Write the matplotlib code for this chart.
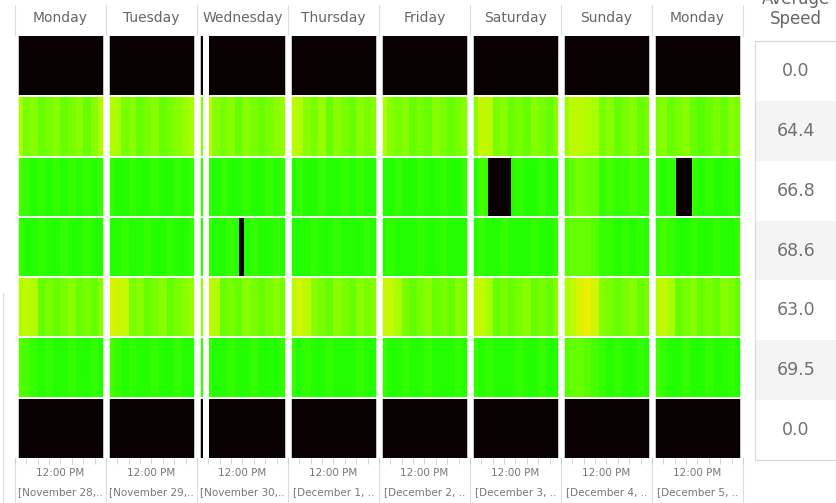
import numpy as np
import matplotlib.pyplot as plt
from matplotlib.colors import LinearSegmentedColormap, Normalize
from matplotlib.patches import Rectangle
from matplotlib.lines import Line2D

W, H = 837, 503

days = ["Monday", "Tuesday", "Wednesday", "Thursday", "Friday",
        "Saturday", "Sunday", "Monday"]
dates = ["[November 28,..", "[November 29,..", "[November 30,..",
         "[December 1, ..", "[December 2, ..", "[December 3, ..",
         "[December 4, ..", "[December 5, .."]
avg_speed = [0.0, 64.4, 66.8, 68.6, 63.0, 69.5, 0.0]

# speed (mph) in 2-hour bins, one list of 12 per day
row_closed = [[0] * 12 for _ in range(8)]
row1 = [
    [62, 65, 64, 66, 65, 64, 66, 65, 64, 66, 64, 61],
    [61, 62, 65, 64, 66, 65, 64, 66, 65, 64, 63, 62],
    [64, 60, 64, 65, 64, 66, 64, 65, 66, 65, 64, 63],
    [60, 61, 64, 65, 63, 66, 64, 65, 66, 64, 65, 64],
    [62, 64, 65, 64, 66, 65, 66, 64, 65, 66, 65, 64],
    [64, 59, 60, 65, 64, 66, 65, 66, 64, 65, 66, 64],
    [63, 60, 60, 61, 62, 65, 64, 66, 65, 64, 66, 65],
    [65, 64, 66, 65, 64, 66, 67, 66, 65, 66, 64, 65],
]
row2 = [
    [68, 69, 70, 69, 70, 69, 70, 69, 70, 69, 70, 69],
    [69, 70, 70, 69, 70, 70, 69, 70, 70, 69, 70, 69],
    [69, 69, 70, 69, 70, 70, 69, 70, 70, 69, 70, 69],
    [70, 69, 70, 70, 69, 70, 70, 69, 70, 69, 70, 70],
    [70, 70, 69, 70, 70, 69, 70, 70, 69, 70, 70, 69],
    [70, 68, 69, 69, 69, 70, 69, 70, 70, 69, 70, 70],
    [68, 66, 65, 66, 66, 69, 68, 69, 69, 68, 69, 69],
    [69, 70, 69, 69, 69, 69, 70, 69, 70, 70, 69, 70],
]
row3 = [
    [69, 70, 70, 69, 70, 70, 69, 70, 70, 69, 70, 70],
    [70, 70, 69, 70, 70, 69, 70, 70, 69, 70, 70, 69],
    [70, 69, 70, 70, 69, 70, 70, 69, 70, 70, 69, 70],
    [70, 70, 70, 69, 70, 70, 69, 70, 70, 70, 69, 70],
    [70, 69, 70, 70, 70, 69, 70, 70, 69, 70, 70, 70],
    [70, 69, 70, 70, 69, 70, 70, 70, 69, 70, 70, 69],
    [67, 66, 66, 66, 67, 69, 69, 70, 69, 70, 69, 70],
    [69, 68, 69, 70, 70, 69, 70, 70, 69, 70, 70, 69],
]
row4 = [
    [61, 60, 61, 66, 65, 66, 65, 64, 66, 65, 66, 64],
    [57, 58, 59, 65, 64, 66, 65, 64, 66, 65, 64, 63],
    [63, 60, 61, 66, 65, 66, 64, 65, 66, 65, 64, 65],
    [60, 58, 60, 64, 65, 66, 64, 65, 66, 64, 65, 64],
    [59, 59, 62, 65, 66, 65, 64, 66, 65, 66, 64, 65],
    [60, 59, 62, 66, 65, 66, 65, 64, 66, 65, 66, 64],
    [62, 60, 57, 55, 58, 64, 65, 66, 65, 64, 66, 65],
    [61, 59, 62, 66, 65, 64, 66, 65, 66, 64, 65, 66],
]
row5 = [
    [67, 68, 69, 70, 69, 70, 70, 69, 70, 70, 69, 70],
    [68, 69, 70, 69, 70, 70, 69, 70, 70, 69, 70, 70],
    [69, 69, 70, 70, 69, 70, 70, 69, 70, 70, 70, 69],
    [69, 70, 69, 70, 70, 69, 70, 70, 70, 69, 70, 70],
    [69, 70, 70, 69, 70, 70, 69, 70, 70, 70, 69, 70],
    [69, 70, 69, 70, 70, 70, 69, 70, 70, 69, 70, 70],
    [67, 66, 66, 67, 68, 69, 70, 69, 70, 70, 69, 70],
    [68, 69, 70, 70, 69, 70, 70, 69, 70, 70, 69, 70],
]
rows = [row_closed, row1, row2, row3, row4, row5, row_closed]

# (day, row, start hour, end hour) where speed dropped to 0
outages = [(2, 3, 11.1, 12.4), (5, 2, 4.7, 10.8), (7, 2, 6.3, 10.5)]
# (day, start hour, end hour) with no data at all
missing = [(2, 1.6, 3.2)]

grid = np.array([np.concatenate(r) for r in rows], dtype=float)
n_bins = grid.shape[1] // len(days)

cmap = LinearSegmentedColormap.from_list(
    "speed", [(0.0, "#ecf000"), (0.45, "#a6ff00"), (1.0, "#14ff00")])
cmap.set_under("#0a0202")
norm = Normalize(vmin=55, vmax=71)

fig = plt.figure(figsize=(W / 100, H / 100), dpi=100)
ax = fig.add_axes([15 / W, (H - 458) / H, 728 / W, 422 / H])

x_edges = np.arange(grid.shape[1] + 1) / n_bins
y_edges = np.arange(len(rows) + 1)
ax.pcolormesh(x_edges, y_edges, grid, cmap=cmap, norm=norm, zorder=1)

for d, r, h0, h1 in outages:
    ax.add_patch(Rectangle((d + h0 / 24, r), (h1 - h0) / 24, 1,
                           color="#0a0202", lw=0, zorder=2))
for d, h0, h1 in missing:
    ax.axvspan(d + h0 / 24, d + h1 / 24, color="white", lw=0, zorder=3)

for b in range(len(days) + 1):
    ax.axvline(b, color="white", lw=4.7, zorder=4)
for r in range(1, len(rows)):
    ax.axhline(r, color="white", lw=1.4, zorder=4)

ax.set_xlim(0, len(days))
ax.set_ylim(len(rows), 0)
for s in ax.spines.values():
    s.set_visible(False)
ax.set_yticks([])
ax.set_xticks([d + 0.5 for d in range(len(days))])
ax.set_xticklabels([])
ax.set_xticks([d + k / 8 for d in range(len(days)) for k in range(9)], minor=True)
ax.tick_params(axis="x", which="both", length=4, width=0.6, color="#cccccc")

# header and footer
sep = "#dddddd"
for b in range(len(days) + 1):
    ax.plot([b, b], [-0.52, 0], color=sep, lw=0.8, clip_on=False, zorder=0)
    ax.plot([b, b], [7.0, 7.75], color=sep, lw=0.8, clip_on=False, zorder=0)
for d, (name, date) in enumerate(zip(days, dates)):
    ax.text(d + 0.5, -0.3, name, ha="center", va="center",
            fontsize=10, color="#666666")
    ax.text(d + 0.5, 7.25, "12:00 PM", ha="center", va="center",
            fontsize=7.5, color="#777777")
    ax.text(d + 0.5, 7.57, date, ha="center", va="center",
            fontsize=7.5, color="#777777")

fig.add_artist(Line2D([3 / W, 3 / W], [0, (H - 293) / H], color=sep, lw=0.8))

# average speed table
tab = fig.add_axes([755 / W, (H - 460) / H, 100 / W, 419 / H])
tab.set_xlim(0, 1)
tab.set_ylim(len(avg_speed), 0)
for i, v in enumerate(avg_speed):
    tab.axhspan(i, i + 1, color="#f4f4f4" if i % 2 else "white", lw=0)
    tab.text(0.41, i + 0.5, f"{v:.1f}", ha="center", va="center",
             fontsize=12.5, color="#707070")
tab.set_xticks([])
tab.set_yticks([])
for s in tab.spines.values():
    s.set_color("#d8d8d8")
    s.set_linewidth(0.8)

fig.text(796 / W, 1 - 24 / H, "Speed", ha="center", va="baseline",
         fontsize=12, color="#666666")
fig.text(796 / W, 1 - 4 / H, "Average", ha="center", va="baseline",
         fontsize=12, color="#666666")

fig.savefig("out.png", dpi=100)
